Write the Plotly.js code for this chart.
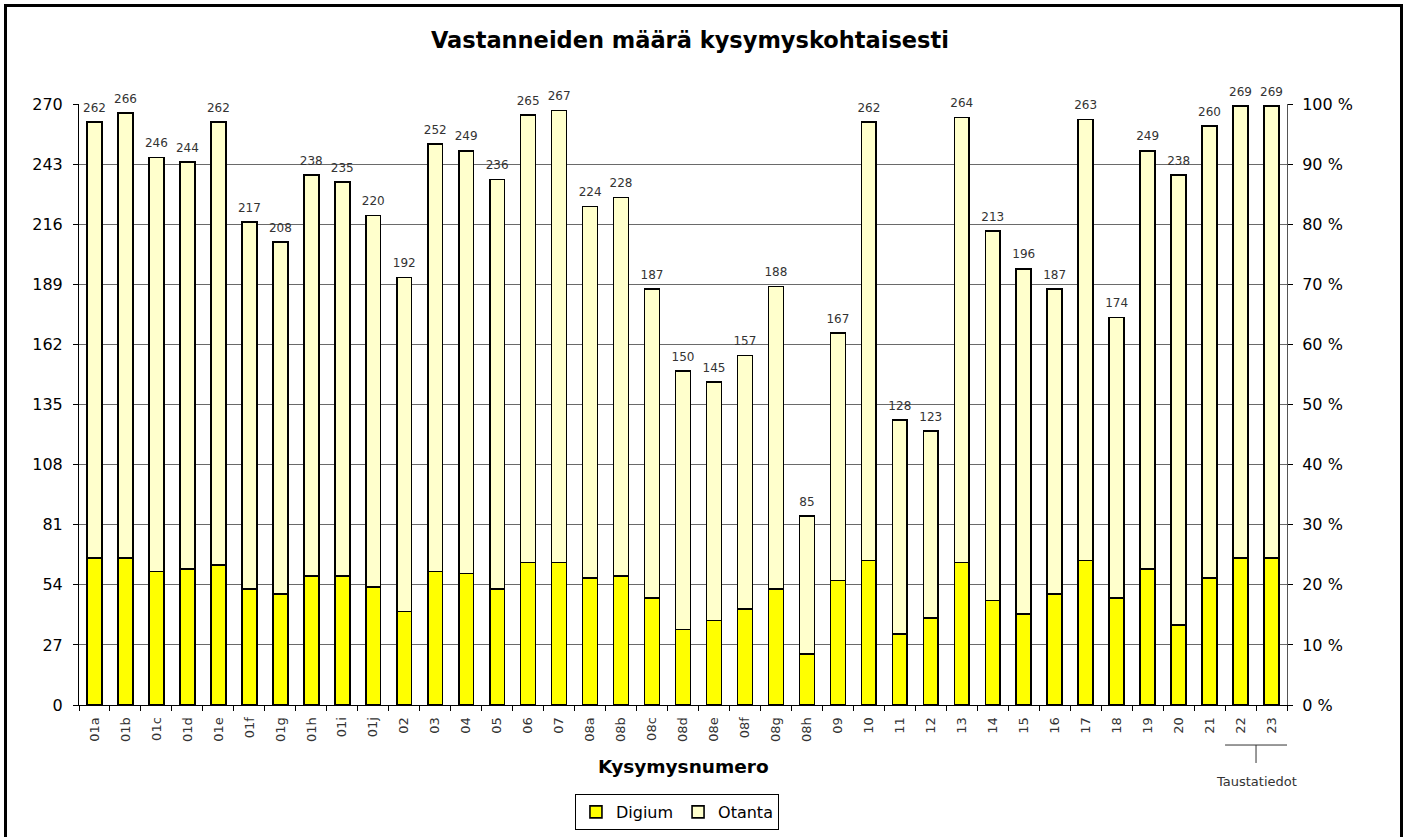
<!DOCTYPE html>
<html>
<head>
<meta charset="utf-8">
<script src="https://cdn.plot.ly/plotly-3.0.1.min.js"></script>
<style>
html,body{margin:0;padding:0;overflow:hidden;background:#fff;}
#wrap{position:relative;width:1408px;height:837px;overflow:hidden;}
#chart{width:1408px;height:837px;}
#frame{position:absolute;left:4px;top:4px;width:1399px;height:900px;border:3px solid #000;box-sizing:border-box;pointer-events:none;}
</style>
</head>
<body>
<div id="wrap"><div id="chart"></div><div id="frame"></div></div>
<script>
const categories = ['01a','01b','01c','01d','01e','01f','01g','01h','01i','01j','02','03','04','05','06','07','08a','08b','08c','08d','08e','08f','08g','08h','09','10','11','12','13','14','15','16','17','18','19','20','21','22','23'];
const totals = [262,266,246,244,262,217,208,238,235,220,192,252,249,236,265,267,224,228,187,150,145,157,188,85,167,262,128,123,264,213,196,187,263,174,249,238,260,269,269];
const digium = [66,66,60,61,63,52,50,58,58,53,42,60,59,52,64,64,57,58,48,34,38,43,52,23,56,65,32,39,64,47,41,50,65,48,61,36,57,66,66];
const otanta = [196,200,186,183,199,165,158,180,177,167,150,192,190,184,201,203,167,170,139,116,107,114,136,62,111,197,96,84,200,166,155,137,198,126,188,202,203,203,203];
const leftTicks = [0,27,54,81,108,135,162,189,216,243,270];
const FONT = 'DejaVu Sans, Verdana, sans-serif';

const traces = [
  {type:'bar', name:'Digium', x:categories, y:digium,
   marker:{color:'#FFFF00', line:{color:'#000', width:1.6}}, hoverinfo:'x+y'},
  {type:'bar', name:'Otanta', x:categories, y:otanta,
   marker:{color:'#FFFFCC', line:{color:'#000', width:1.6}}, hoverinfo:'x+y'},
  {type:'scatter', mode:'markers+text', x:categories, y:totals, text:totals.map(String),
   marker:{size:10, opacity:0}, textposition:'top center', textfont:{family:FONT, size:12, color:'#333'},
   showlegend:false, hoverinfo:'skip', cliponaxis:false},
  {type:'scatter', mode:'markers', x:[categories[0]], y:[null], yaxis:'y2',
   showlegend:false, hoverinfo:'skip', marker:{opacity:0}}
];

const layout = {
  width:1408, height:837,
  margin:{l:79, r:121, t:104, b:132, autoexpand:false},
  paper_bgcolor:'#fff', plot_bgcolor:'#fff',
  barmode:'stack', bargap:0.52,
  font:{family:FONT, color:'#000'},
  title:{text:'<b>Vastanneiden määrä kysymyskohtaisesti</b>', x:0.49, xanchor:'center', y:0.952, yanchor:'middle',
         font:{family:FONT, size:22.5, color:'#000'}},
  xaxis:{type:'category', range:[-0.5, categories.length - 0.5], tickson:'boundaries', ticks:'outside', ticklen:5, tickcolor:'#000',
         tickangle:-90, tickfont:{family:FONT, size:13, color:'#333'}, ticklabelstandoff:6,
         showline:true, linecolor:'#000', linewidth:1, showgrid:false, fixedrange:true},
  yaxis:{range:[0,270], tickvals:leftTicks, ticks:'outside', ticklen:5, tickcolor:'#000', ticklabelstandoff:7,
         tickfont:{family:FONT, size:16, color:'#000'}, showline:true, linecolor:'#000', linewidth:1,
         showgrid:true, gridcolor:'#6a6a6a', gridwidth:1, zeroline:false, fixedrange:true},
  yaxis2:{overlaying:'y', side:'right', range:[0,100], dtick:10, ticksuffix:' %', ticklabelstandoff:6,
          ticks:'outside', ticklen:5, tickcolor:'#000', tickfont:{family:FONT, size:16, color:'#000'},
          showline:true, linecolor:'#555', linewidth:1, showgrid:false, zeroline:false, fixedrange:true},
  showlegend:true,
  legend:{orientation:'h', x:0.495, xanchor:'center', y:-0.178, yanchor:'middle',
          bordercolor:'#000', borderwidth:1, bgcolor:'#fff',
          font:{family:FONT, size:16, color:'#000'}, traceorder:'normal', itemwidth:30},
  annotations:[
    {text:'<b>Kysymysnumero</b>', xref:'paper', yref:'paper', x:0.5, y:-0.103, xanchor:'center', yanchor:'middle',
     showarrow:false, font:{family:FONT, size:18.5, color:'#000'}},
    {text:'Taustatiedot', xref:'x', yref:'paper', x:37.5, y:-0.128, xanchor:'center', yanchor:'middle',
     showarrow:false, font:{family:FONT, size:13, color:'#333'}}
  ],
  shapes:[
    {type:'line', xref:'x', yref:'paper', x0:36.5, x1:38.5, y0:-0.0666, y1:-0.0666, line:{color:'#333', width:1}},
    {type:'line', xref:'x', yref:'paper', x0:37.5, x1:37.5, y0:-0.0666, y1:-0.0965, line:{color:'#333', width:1}}
  ]
};

Plotly.newPlot('chart', traces, layout, {displayModeBar:false, staticPlot:true});
</script>
</body>
</html>
